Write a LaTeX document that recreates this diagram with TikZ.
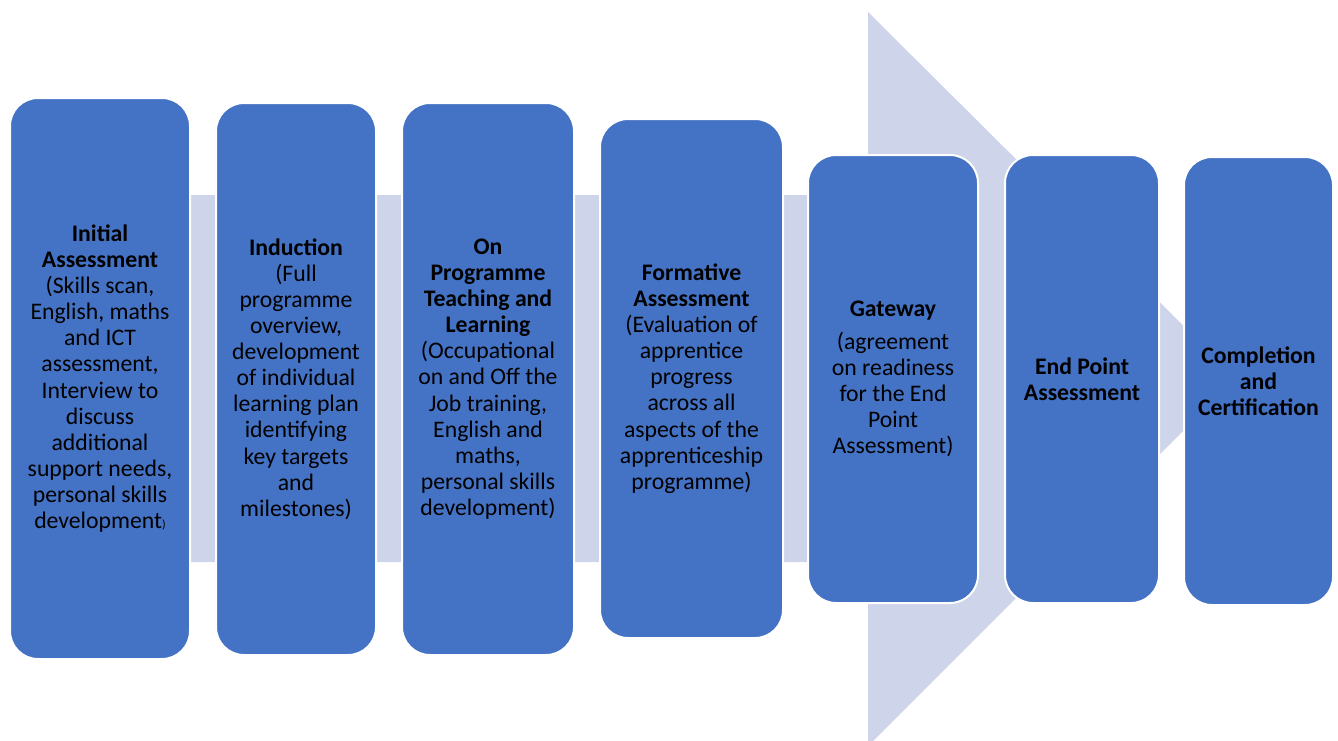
\documentclass[tikz,border=0pt]{standalone}
\usepackage{fontspec}
\setmainfont{Carlito}
\usepackage{xcolor}
\usepackage{tikz}
\usetikzlibrary{positioning}

\definecolor{stageblue}{RGB}{68,114,196}
\definecolor{flowbg}{RGB}{206,212,234}

\tikzset{
  stage/.style={draw=white, line width=1.5pt, fill=stageblue, rounded corners=21pt,
    align=center, inner sep=0pt, font=\fontsize{17.8}{19.6}\selectfont}
}

\begin{document}
\begin{tikzpicture}[x=0.75pt,y=-0.75pt]
    \clip (0,0) rectangle (1338,740);
    % Background arrow
    \fill[flowbg] (100,195) -- (868,195) -- (868,12) -- (1236,378)
        -- (868,746) -- (868,562) -- (100,562) -- cycle;

    % Stages
    \node[stage,minimum width=135pt,minimum height=420.75pt] (initial) at (100,378.5)
        {\textbf{Initial}\\\textbf{Assessment}\\(Skills scan,\\English, maths\\and ICT\\assessment,\\Interview to\\discuss\\additional\\support needs,\\personal skills\\development{\fontsize{9}{9}\selectfont )}};
    \node[stage,minimum width=120pt,minimum height=414pt] (induction) at (296,379)
        {\textbf{Induction}\\(Full\\programme\\overview,\\development\\of individual\\learning plan\\identifying\\key targets\\and\\milestones)};
    \node[stage,minimum width=129pt,minimum height=414pt] (onprog) at (488,379)
        {\textbf{On}\\\textbf{Programme}\\\textbf{Teaching and}\\\textbf{Learning}\\(Occupational\\on and Off the\\Job training,\\English and\\maths,\\personal skills\\development)};
    \node[stage,minimum width=137.25pt,minimum height=389.25pt] (formative) at (691.5,378.5)
        {\textbf{Formative}\\\textbf{Assessment}\\(Evaluation of\\apprentice\\progress\\across all\\aspects of the\\apprenticeship\\programme)};
    \node[stage,minimum width=127.5pt,minimum height=336pt] (gateway) at (893,379)
        {\textbf{Gateway}\\[5pt](agreement\\on readiness\\for the End\\Point\\Assessment)};
    \node[stage,minimum width=115.5pt,minimum height=336pt] (epa) at (1082,379)
        {\textbf{End Point}\\\textbf{Assessment}};
    \node[stage,minimum width=111.75pt,minimum height=336pt] (completion) at (1258.5,381)
        {\textbf{Completion}\\\textbf{and}\\\textbf{Certification}};
\end{tikzpicture}
\end{document}
